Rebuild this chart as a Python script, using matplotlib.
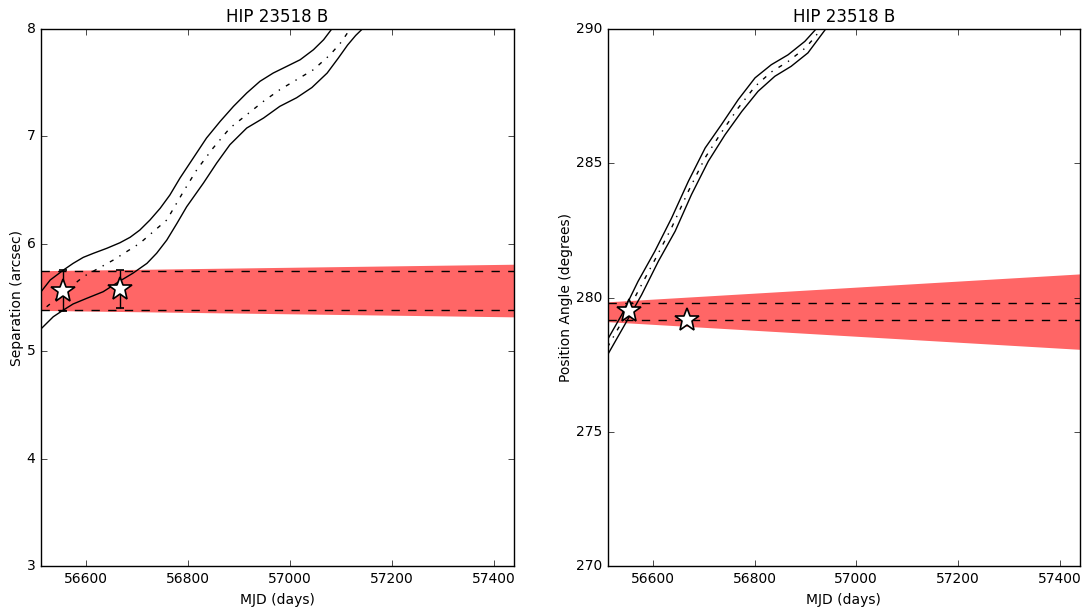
import matplotlib
matplotlib.use("Agg")
import matplotlib.pyplot as plt

plt.style.use("classic")

TITLE = "HIP 23518 B"
XLIM = (56511, 57440)
XTICKS = [56600, 56800, 57000, 57200, 57400]

# observed epochs (MJD) and measurements
obs_mjd = [56554, 56667]
sep_obs = [5.565, 5.580]
sep_err = [0.19, 0.18]
pa_obs = [279.50, 279.16]
pa_err = [0.12, 0.12]

# stationary-background band (edges at left / right of plot)
band_mjd = [56511, 57440]
sep_band_hi = [5.75, 5.81]
sep_band_lo = [5.38, 5.32]
pa_band_hi = [279.84, 280.88]
pa_band_lo = [279.10, 278.07]

# dashed reference levels
sep_dash = [5.747, 5.381]
pa_dash = [279.78, 279.16]

# separation track: upper, lower envelopes and middle (dash-dot)
sep_up_mjd = [56511, 56529, 56555, 56574, 56594, 56614, 56640, 56666, 56686,
              56705, 56725, 56745, 56764, 56784, 56810, 56836, 56863, 56889,
              56915, 56941, 56967, 56994, 57020, 57046, 57066, 57082]
sep_up = [5.554, 5.663, 5.756, 5.818, 5.874, 5.912, 5.958, 6.010, 6.061,
          6.128, 6.222, 6.331, 6.454, 6.613, 6.799, 6.985, 7.141, 7.280,
          7.404, 7.513, 7.590, 7.653, 7.714, 7.807, 7.900, 8.0]
sep_lo_mjd = [56512, 56535, 56555, 56574, 56601, 56633, 56666, 56692, 56719,
              56738, 56758, 56778, 56797, 56830, 56856, 56882, 56915, 56948,
              56980, 57013, 57043, 57073, 57095, 57113, 57129, 57142]
sep_lo = [5.213, 5.321, 5.384, 5.440, 5.493, 5.554, 5.654, 5.728, 5.818,
          5.912, 6.035, 6.191, 6.345, 6.566, 6.752, 6.923, 7.078, 7.171,
          7.280, 7.360, 7.455, 7.590, 7.730, 7.850, 7.940, 8.0]
sep_mid_mjd = [56522, 56555, 56594, 56627, 56653, 56705, 56758, 56791, 56817,
               56849, 56882, 56915, 56948, 56980, 57013, 57046, 57079, 57101,
               57118]
sep_mid = [5.414, 5.542, 5.694, 5.780, 5.849, 6.005, 6.222, 6.489, 6.690,
           6.892, 7.078, 7.202, 7.327, 7.435, 7.528, 7.621, 7.761, 7.880,
           8.0]

# position angle track
pa_up_mjd = [56511, 56539, 56571, 56604, 56637, 56670, 56703, 56735, 56768,
             56801, 56833, 56866, 56899, 56921]
pa_up = [278.43, 279.36, 280.60, 281.72, 282.96, 284.33, 285.57, 286.44, 287.37,
         288.18, 288.67, 289.04, 289.54, 290.0]
pa_lo_mjd = [56511, 56545, 56578, 56611, 56644, 56676, 56709, 56742, 56775,
             56807, 56840, 56872, 56905, 56940]
pa_lo = [277.86, 278.99, 280.10, 281.35, 282.47, 283.83, 285.07, 286.06, 286.93,
         287.68, 288.24, 288.61, 289.11, 290.0]
pa_mid_mjd = [56511, 56539, 56571, 56604, 56637, 56670, 56703, 56735, 56768,
              56801, 56833, 56866, 56899, 56919, 56930]
pa_mid = [278.15, 279.08, 280.23, 281.40, 282.60, 283.96, 285.21, 286.15, 287.06,
          287.86, 288.40, 288.79, 289.28, 289.70, 290.0]


def draw_panel(ax, band_hi, band_lo, dash, up_x, up_y, lo_x, lo_y, mid_x, mid_y,
               obs_y, obs_e, ylim, yticks, ylabel):
    ax.fill_between(band_mjd, band_lo, band_hi, color="red", alpha=0.6,
                    linewidth=0, zorder=1)
    for lev in dash:
        ax.axhline(lev, color="black", ls="--", lw=1, zorder=2)
    ax.plot(up_x, up_y, color="black", lw=1, zorder=3)
    ax.plot(lo_x, lo_y, color="black", lw=1, zorder=3)
    ax.plot(mid_x, mid_y, color="black", lw=1, ls="-.", zorder=3)
    ax.errorbar(obs_mjd, obs_y, yerr=obs_e, fmt="*", color="black", ecolor="black",
                mfc="white", mec="black", mew=1.2, ms=18, capsize=3, elinewidth=1,
                zorder=4)
    ax.set_xlim(*XLIM)
    ax.set_ylim(*ylim)
    ax.set_xticks(XTICKS)
    ax.set_yticks(yticks)
    ax.ticklabel_format(useOffset=False, style="plain", axis="x")
    ax.tick_params(labelsize=10)
    ax.set_title(TITLE, fontsize=12)
    ax.set_xlabel("MJD (days)", fontsize=10)
    ax.set_ylabel(ylabel, fontsize=10, labelpad=2)


fig = plt.figure(figsize=(10.86, 6.07), dpi=100, facecolor="white")
ax1 = fig.add_axes([0.0378, 0.0675, 0.4355, 0.8847])
ax2 = fig.add_axes([0.5594, 0.0675, 0.4351, 0.8847])

draw_panel(ax1, sep_band_hi, sep_band_lo, sep_dash, sep_up_mjd, sep_up,
           sep_lo_mjd, sep_lo, sep_mid_mjd, sep_mid, sep_obs, sep_err,
           (3, 8), [3, 4, 5, 6, 7, 8], "Separation (arcsec)")
draw_panel(ax2, pa_band_hi, pa_band_lo, pa_dash, pa_up_mjd, pa_up,
           pa_lo_mjd, pa_lo, pa_mid_mjd, pa_mid, pa_obs, pa_err,
           (270, 290), [270, 275, 280, 285, 290], "Position Angle (degrees)")

fig.savefig("out.png", dpi=100, facecolor="white")
